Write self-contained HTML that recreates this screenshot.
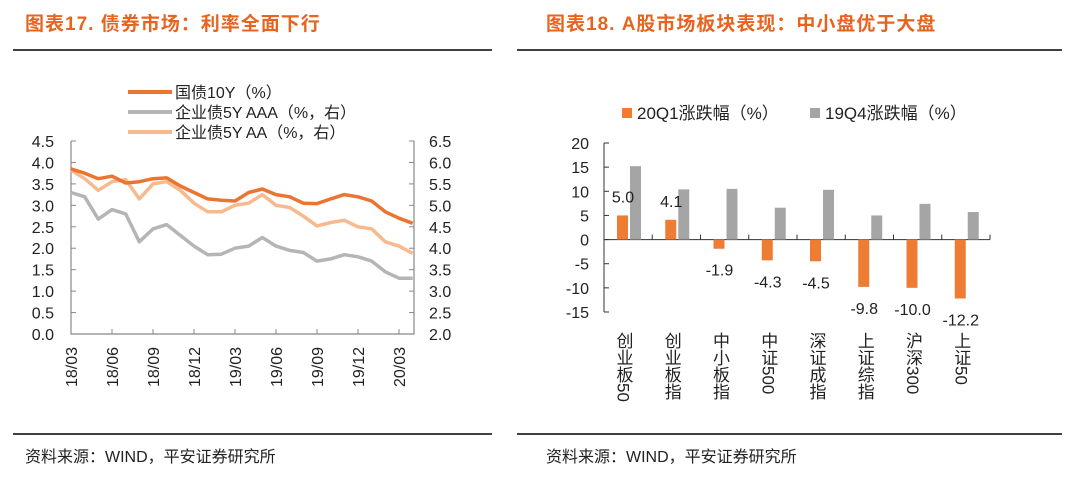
<!DOCTYPE html>
<html><head><meta charset="utf-8">
<style>
body{margin:0;background:#fff;width:1080px;height:477px;overflow:hidden;font-family:"Liberation Sans","Noto Sans CJK SC",sans-serif;}
svg{position:absolute;left:0;top:0}
</style></head>
<body>
<svg width="1080" height="477" viewBox="0 0 1080 477" font-family="Liberation Sans, Noto Sans CJK SC, sans-serif">
<text x="25" y="30" font-size="19" font-weight="bold" fill="#E8641E" letter-spacing="1">图表17. 债券市场：利率全面下行</text>
<text x="546" y="30" font-size="19" font-weight="bold" fill="#E8641E" letter-spacing="1">图表18. A股市场板块表现：中小盘优于大盘</text>
<line x1="13" y1="50" x2="492" y2="50" stroke="#000" stroke-width="1.5"/>
<line x1="517" y1="50" x2="1062" y2="50" stroke="#000" stroke-width="1.5"/>
<line x1="13" y1="434" x2="492" y2="434" stroke="#000" stroke-width="1.5"/>
<line x1="517" y1="434" x2="1062" y2="434" stroke="#000" stroke-width="1.5"/>
<text x="25" y="462" font-size="16" fill="#222">资料来源：WIND，平安证券研究所</text>
<text x="546" y="462" font-size="16" fill="#222">资料来源：WIND，平安证券研究所</text>
<g id="left"></g>
<g id="right"></g>
</svg>
<script>
// ---- Left chart data ----
const monthLabels = ["18/03","18/06","18/09","18/12","19/03","19/06","19/09","19/12","20/03"];
const leftTicks = [0,0.5,1,1.5,2,2.5,3,3.5,4,4.5];
const rightTicks = [2,2.5,3,3.5,4,4.5,5,5.5,6,6.5];
// monthly values 18/03 .. 20/04
const gov10y = [3.85,3.75,3.62,3.68,3.52,3.55,3.62,3.64,3.45,3.30,3.15,3.12,3.10,3.30,3.38,3.25,3.20,3.05,3.04,3.15,3.25,3.20,3.10,2.85,2.70,2.58];
const aaa5y = [5.30,5.20,4.68,4.90,4.80,4.15,4.45,4.55,4.30,4.05,3.85,3.86,4.00,4.05,4.25,4.05,3.95,3.90,3.70,3.75,3.85,3.80,3.70,3.45,3.30,3.30];
const aa5y = [5.82,5.62,5.35,5.55,5.60,5.15,5.50,5.55,5.35,5.05,4.85,4.85,5.00,5.05,5.25,5.00,4.95,4.75,4.52,4.60,4.65,4.50,4.45,4.15,4.05,3.88];

// ---- Right chart data ----
const categories = ["创业板50","创业板指","中小板指","中证500","深证成指","上证综指","沪深300","上证50"];
const q1Values = [5.0,4.1,-1.9,-4.3,-4.5,-9.8,-10.0,-12.2];
const q4Values = [15.2,10.4,10.5,6.6,10.3,5.0,7.4,5.7];
const barTicks = [-15,-10,-5,0,5,10,15,20];

const NS="http://www.w3.org/2000/svg";
function mk(parent,tag,attrs,text){const e=document.createElementNS(NS,tag);for(const k in attrs)e.setAttribute(k,attrs[k]);if(text!==undefined)e.textContent=text;parent.appendChild(e);return e;}

// Left axes
const L=document.getElementById('left');
const lx0=71,lx1=414,ly0=334,ly1=141;
const xm=m=>lx0+m*(41/3);
const yL=v=>ly0-(v/4.5)*(ly0-ly1);
const yR=v=>ly0-((v-2)/4.5)*(ly0-ly1);
let e;
e=mk(L,'path',{d:`M${lx0} ${ly1}V${ly0}H${lx1}V${ly1}`,fill:'none',stroke:'#888','stroke-width':1.2});


leftTicks.forEach(v=>{
  e=mk(L,'line',{x1:lx0,x2:lx0+5,y1:yL(v),y2:yL(v),stroke:'#888'});
  
  
  e=mk(L,'text',{x:lx0-17,y:yL(v)+6,'font-size':16,'text-anchor':'end',fill:'#222'},v.toFixed(1));
  
  
});
rightTicks.forEach(v=>{
  e=mk(L,'line',{x1:lx1-5,x2:lx1,y1:yR(v),y2:yR(v),stroke:'#888'});
  
  
  e=mk(L,'text',{x:lx1+15,y:yR(v)+6,'font-size':16,fill:'#222'},v.toFixed(1));
  
  
});
monthLabels.forEach((lab,i)=>{
  const x=xm(i*3);
  e=mk(L,'line',{x1:x,x2:x,y1:ly0,y2:ly0-5,stroke:'#888'});
  
  
  e=mk(L,'text',{transform:`translate(${x+6},${ly0+13}) rotate(-90)`,'font-size':16,'text-anchor':'end',fill:'#222'},lab);
  
  
});
function line(vals,yf,color,name){
  const d=vals.map((v,i)=>(i?'L':'M')+xm(i).toFixed(1)+' '+yf(v).toFixed(1)).join('');
  const p=mk(L,'path',{d,fill:'none',stroke:color,'stroke-width':3.5,'stroke-linejoin':'round'});
  
  
}
line(aaa5y,yR,'#B5B5B5','series-aaa-5y');
line(aa5y,yR,'#F8B98E','series-aa-5y');
line(gov10y,yL,'#EB7431','series-gov-10y');
const legend=[["国债10Y（%）","#EB7431"],["企业债5Y AAA（%，右）","#B5B5B5"],["企业债5Y AA（%，右）","#F8B98E"]];
legend.forEach((l,i)=>{
  const y=92+i*20;
  e=mk(L,'line',{x1:128,x2:172,y1:y,y2:y,stroke:l[1],'stroke-width':4});
  
  
  e=mk(L,'text',{x:175,y:y+6,'font-size':16,fill:'#222'},l[0]);
  
  
});

// Right chart
const R=document.getElementById('right');
const bx0=604,bx1=990,by20=143,byM15=312;
const yB=v=>byM15-((v+15)/35)*(byM15-by20);
const cw=(bx1-bx0)/categories.length;
e=mk(R,'line',{x1:bx0,x2:bx0,y1:by20,y2:byM15,stroke:'#333'});


e=mk(R,'line',{x1:bx0,x2:bx1,y1:yB(0),y2:yB(0),stroke:'#333'});


barTicks.forEach(v=>{
  e=mk(R,'line',{x1:bx0,x2:bx0+5,y1:yB(v),y2:yB(v),stroke:'#333'});
  
  
  e=mk(R,'text',{x:589,y:yB(v)+6,'font-size':16,'text-anchor':'end',fill:'#222'},String(v));
  
  
});
categories.forEach((c,i)=>{
  const cx=bx0+i*cw;
  e=mk(R,'line',{x1:cx+cw,x2:cx+cw,y1:yB(0),y2:yB(0)-5,stroke:'#333'});
  
  
  const v=q1Values[i],g=q4Values[i];
  e=mk(R,'rect',{x:cx+13,y:Math.min(yB(v),yB(0)),width:11,height:Math.abs(yB(v)-yB(0)),fill:'#EE7D33'});
  
  
  e=mk(R,'rect',{x:cx+26,y:Math.min(yB(g),yB(0)),width:11,height:Math.abs(yB(g)-yB(0)),fill:'#A5A5A5'});
  
  
  const ly=v>=0?yB(v)-13:yB(v)+27;
  e=mk(R,'text',{x:cx+19,y:ly,'font-size':16,'text-anchor':'middle',fill:'#222'},v.toFixed(1));
  
  
  e=mk(R,'text',{x:cx+19,y:332,'font-size':17,fill:'#222',style:'writing-mode:vertical-rl'},c);
  
  
});
const bl=[["20Q1涨跌幅（%）","#EE7D33",622],["19Q4涨跌幅（%）","#A5A5A5",810]];
bl.forEach(l=>{
  e=mk(R,'rect',{x:l[2],y:108,width:10,height:10,fill:l[1]});
  
  
  e=mk(R,'text',{x:l[2]+15,y:119,'font-size':17,fill:'#222'},l[0]);
  
  
});
</script>
</body></html>
